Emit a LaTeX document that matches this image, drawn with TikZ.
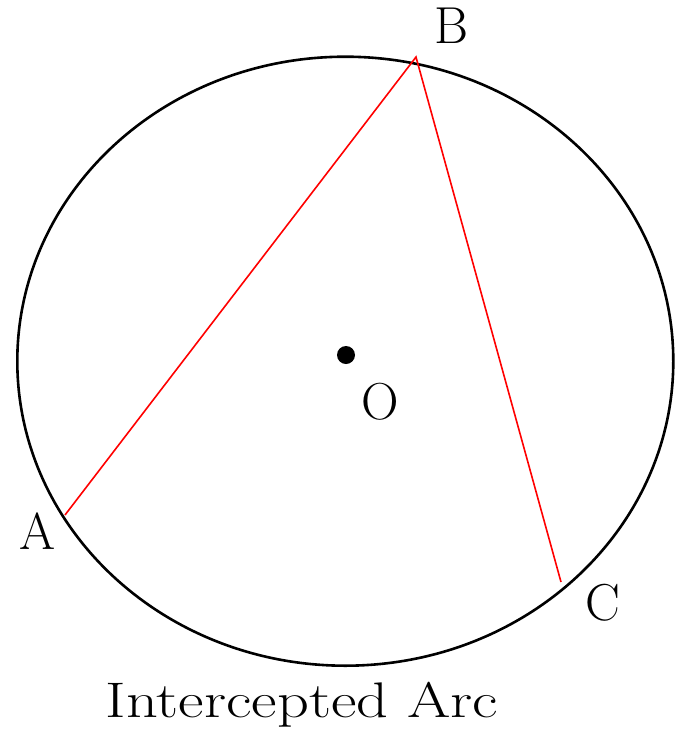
\documentclass[tikz,border=0pt]{standalone}
\usepackage{tikz}
\usetikzlibrary{positioning}
\tikzset{
  ptlabel/.style={font=\fontsize{52}{60}\selectfont, inner sep=0pt},
  chord/.style={red, line width=1.6pt}
}

\begin{document}
\begin{tikzpicture}[x=1pt, y=-1pt]
\useasboundingbox (0,0) rectangle (680,748);
\draw[line width=2.6pt] (345.3,361.2) ellipse [x radius=328, y radius=304.5];
\coordinate (A) at (65,515);
\coordinate (B) at (416,57);
\coordinate (C) at (561,582);
\coordinate (O) at (346,355);
\draw[chord] (A) -- (B) -- (C);
\fill (O) circle (9);
\node[ptlabel] (lA) at (38,531) {A};
\node[ptlabel] (lB) at (452,26) {B};
\node[ptlabel] (lC) at (603,603) {C};
\node[ptlabel] (lO) at (380,402) {O};
\node[font=\fontsize{50}{60}\selectfont, inner sep=0pt, anchor=base, xscale=1.25] (title) at (302,717) {Intercepted Arc};
\end{tikzpicture}
\end{document}
